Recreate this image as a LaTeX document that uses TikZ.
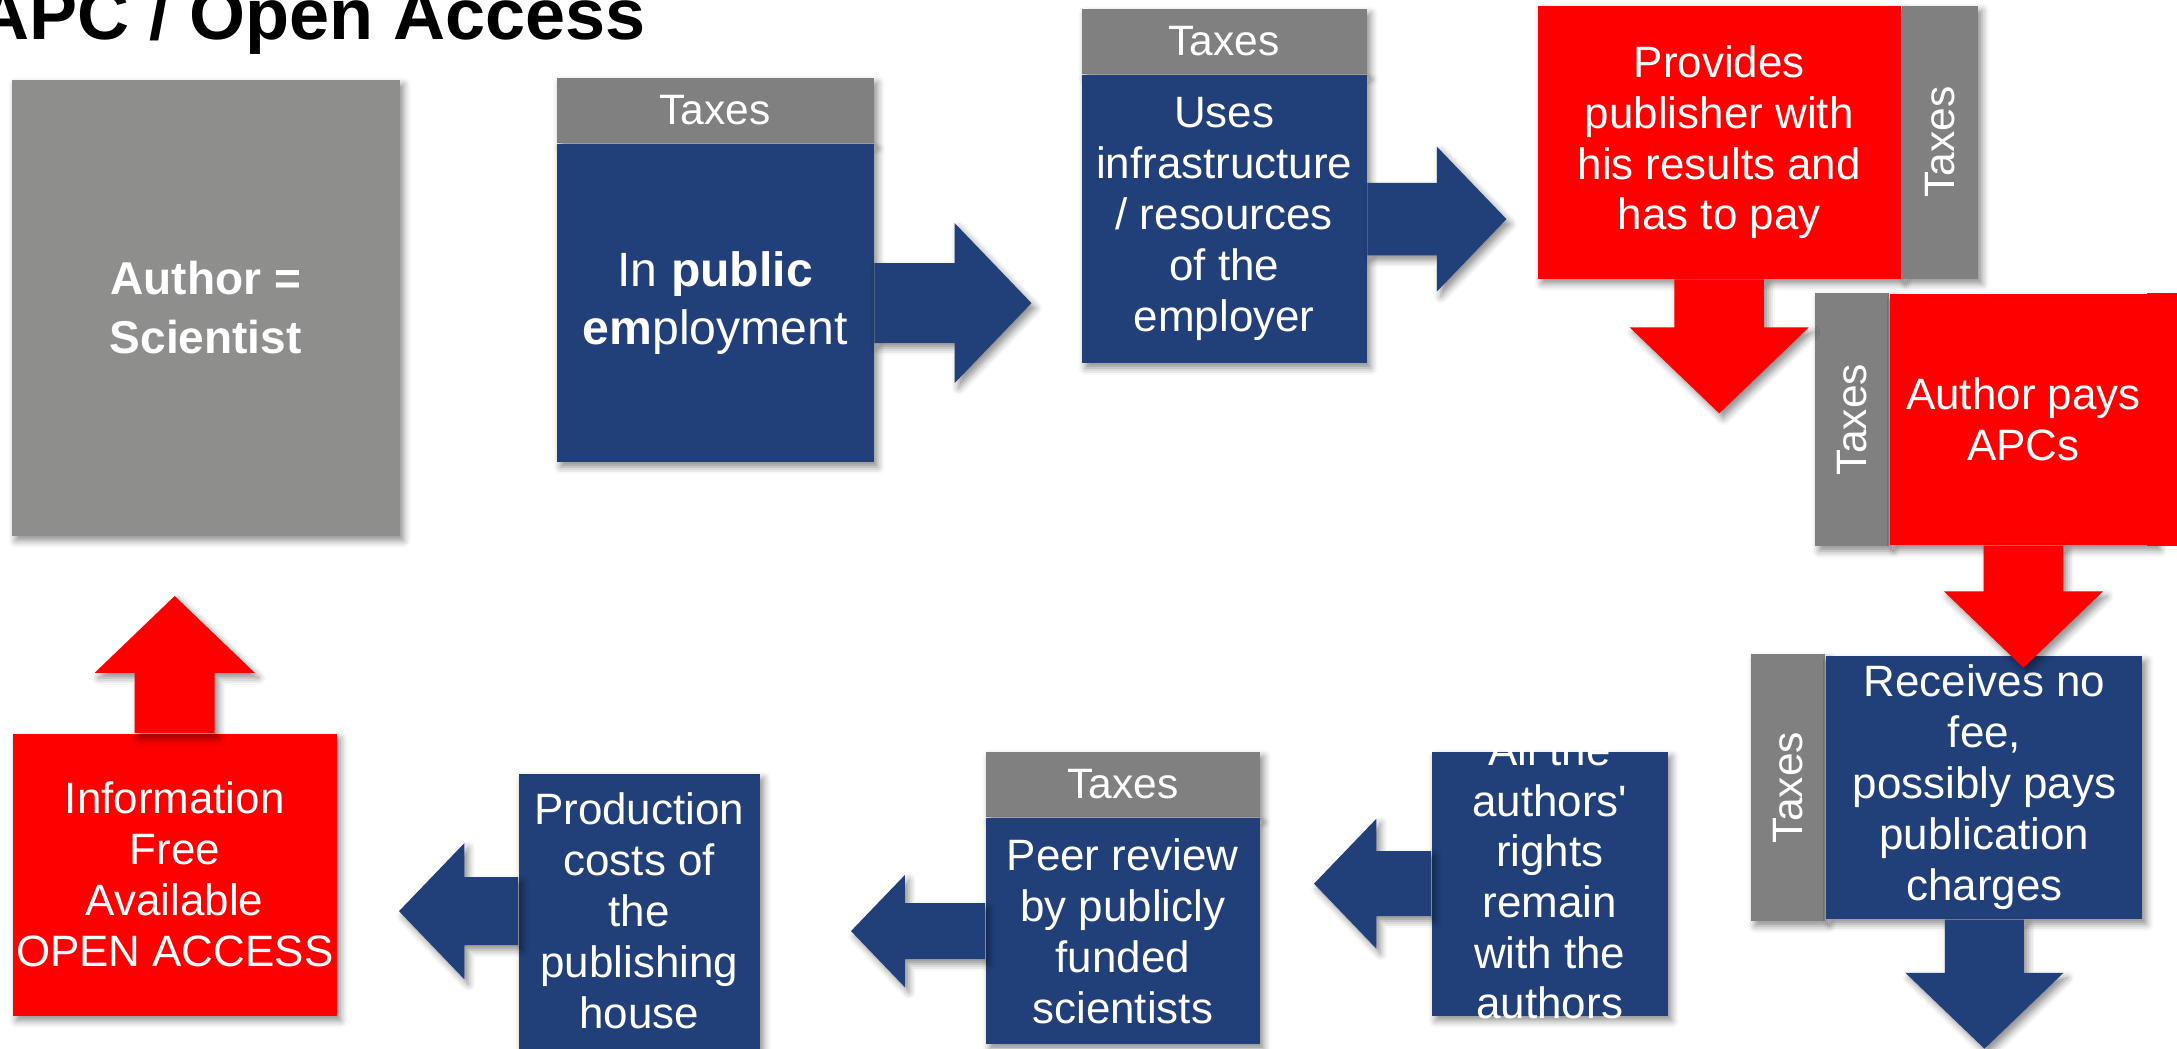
\documentclass[tikz,border=0pt]{standalone}
\usepackage{fontspec}
\setmainfont{Liberation Sans}
\usetikzlibrary{calc,positioning,shadows.blur}

\definecolor{pubblue}{RGB}{33,64,122}
\definecolor{taxgray}{RGB}{128,128,128}
\definecolor{authgray}{RGB}{142,142,140}
\definecolor{apcred}{RGB}{255,0,0}

\tikzset{%
        softshadow/.style={
                blur shadow={shadow xshift=0.04cm, shadow yshift=-0.05cm,
                        shadow blur radius=0.07cm, shadow opacity=45}
            },
        panel/.style={
                softshadow,
                inner sep=0pt,
                align=center,
                text=white,
                font=\fontsize{12.5}{14.5}\selectfont
            },
        bluebox/.style={panel, fill=pubblue},
        redbox/.style={panel, fill=apcred},
        taxes/.style={panel, fill=taxgray, font=\fontsize{12.1}{14}\selectfont},
        blockarrow/.style={to path={
                ($(\tikztotarget)!0.48*#1!(\tikztostart)$) coordinate (ah)
                ($(\tikztostart)!0.25*#1!90:(\tikztotarget)$)
                -- ($(ah)!0.25*#1!90:(\tikztotarget)$)
                -- ($(ah)!0.5*#1!90:(\tikztotarget)$)
                -- (\tikztotarget)
                -- ($(ah)!0.5*#1!-90:(\tikztotarget)$)
                -- ($(ah)!0.25*#1!-90:(\tikztotarget)$)
                -- ($(\tikztostart)!0.25*#1!-90:(\tikztotarget)$)
                -- cycle}
            }
    }

\begin{document}
\begin{tikzpicture}
    \useasboundingbox (0,0) rectangle (21.77,-10.49);

    \node [anchor=base west, font=\bfseries\fontsize{20.5}{25}\selectfont] (title) at (-0.35,-0.40) {APC / Open Access};

    % upper row:
        \node [panel, fill=authgray, anchor=north west, minimum width=3.88cm, minimum height=4.56cm,
               font=\bfseries\fontsize{13.1}{16.8}\selectfont] (author) at (0.11,-0.79) {Author =\\Scientist};

        \node [taxes, anchor=north west, minimum width=3.17cm, minimum height=0.65cm] (emptax) at (5.56,-0.77) {Taxes};
        \node [bluebox, below=0pt of emptax, minimum width=3.17cm, minimum height=3.18cm,
               font=\fontsize{13.7}{16.5}\selectfont] (emp) {In \textbf{public}\\\textbf{em}ployment};

        \node [taxes, anchor=north west, minimum width=2.85cm, minimum height=0.65cm] (infratax) at (10.81,-0.08) {Taxes};
        \node [bluebox, below=0pt of infratax, minimum width=2.85cm, minimum height=2.88cm] (infra)
              {Uses\\infrastructure\\/ resources\\of the\\employer};

        \node [redbox, anchor=north west, minimum width=3.63cm, minimum height=2.73cm] (prov) at (15.37,-0.05)
              {Provides\\publisher with\\his results and\\has to pay};
        \node [taxes, rotate=90, anchor=north, minimum width=2.73cm, minimum height=0.76cm] (provtax) at (prov.east) {Taxes};

        \node [taxes, rotate=90, minimum width=2.53cm, minimum height=0.74cm] (apctax) at (18.52,-4.195) {Taxes};
        \node [redbox, anchor=west, minimum width=2.66cm, minimum height=2.51cm] (apc) at (apctax.south) {Author pays\\APCs};
        \fill [apcred] ([xshift=-0.1cm]apc.north east) rectangle ([xshift=0.4cm]apc.south east);

    % lower row:
        \node [taxes, rotate=90, minimum width=2.67cm, minimum height=0.74cm] (rectax) at (17.88,-7.875) {Taxes};
        \node [bluebox, anchor=west, minimum width=3.16cm, minimum height=2.63cm] (rec) at (rectax.south)
              {Receives no\\fee,\\possibly pays\\publication\\charges};

        \node [bluebox, anchor=north west, minimum width=2.36cm, minimum height=2.64cm,
               font=\fontsize{12.5}{14.4}\selectfont] (rights) at (14.31,-7.51)
              {\smash{\raisebox{-0.09cm}{\begin{tabular}{@{}c@{}}All the\\authors\textquotesingle\\rights\\remain\\with the\\authors\end{tabular}}}};

        \node [taxes, anchor=north west, minimum width=2.74cm, minimum height=0.65cm] (peertax) at (9.85,-7.51) {Taxes};
        \node [bluebox, below=0pt of peertax, minimum width=2.74cm, minimum height=2.26cm] (peer)
              {Peer review\\by publicly\\funded\\scientists};

        \node [bluebox, anchor=north west, minimum width=2.41cm, minimum height=2.75cm] (prod) at (5.18,-7.73)
              {Production\\costs of\\the\\publishing\\house};

        \node [redbox, anchor=north west, minimum width=3.24cm, minimum height=2.82cm] (info) at (0.12,-7.33)
              {Information\\Free\\Available\\OPEN ACCESS};

    % flow arrows:
        \fill [pubblue, softshadow] (emp.east) to [blockarrow=1.6cm] ++(1.57,0);
        \fill [pubblue, softshadow] (infra.east) to [blockarrow=1.45cm] ++(1.39,0);
        \fill [apcred, softshadow] (prov.south) to [blockarrow=1.79cm] ++(0,-1.34);
        \fill [apcred, softshadow] (apc.south) to [blockarrow=1.59cm] ++(0,-1.22);
        \fill [pubblue, softshadow] (rec.south) to [blockarrow=1.58cm] ++(0,-1.29);
        \fill [pubblue, softshadow] (rights.west) to [blockarrow=1.3cm] ++(-1.17,0);
        \fill [pubblue, softshadow] (peer.west) to [blockarrow=1.12cm] ++(-1.34,0);
        \fill [pubblue, softshadow] (prod.west) to [blockarrow=1.36cm] ++(-1.19,0);
        \fill [apcred, softshadow] (info.north) to [blockarrow=1.6cm] ++(0,1.37);
\end{tikzpicture}
\end{document}
